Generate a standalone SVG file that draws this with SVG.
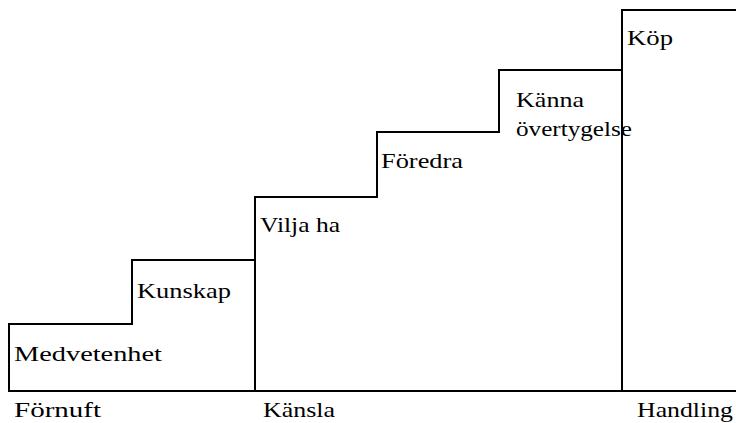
<svg xmlns="http://www.w3.org/2000/svg" width="736" height="423" viewBox="0 0 736 423">
<style>
.l{fill:none;stroke:#000;stroke-width:2;stroke-linecap:square}
text{font-family:"Liberation Serif","Times New Roman",serif;font-size:22px;fill:#000}
</style>
<rect width="736" height="423" fill="#fff"/>
<g id="connectors">
<path class="l" d="M9,391 V324 H132 V260 H255 V197 H377 V132 H499 V70 H622 V10 H736"/>
<path class="l" d="M9,391 H736"/>
<path class="l" d="M255,197 V391"/>
<path class="l" d="M622,10 V391"/>
</g>
<g id="medvetenhet"><text x="14" y="361" textLength="148" lengthAdjust="spacingAndGlyphs">Medvetenhet</text></g>
<g id="kunskap"><text x="137" y="298" textLength="94" lengthAdjust="spacingAndGlyphs">Kunskap</text></g>
<g id="vilja"><text x="260" y="232" textLength="80" lengthAdjust="spacingAndGlyphs">Vilja ha</text></g>
<g id="foredra"><text x="381" y="168" textLength="82" lengthAdjust="spacingAndGlyphs">Föredra</text></g>
<g id="kanna"><text x="516" y="107" textLength="68" lengthAdjust="spacingAndGlyphs">Känna</text><text x="516" y="136" textLength="116" lengthAdjust="spacingAndGlyphs">övertygelse</text></g>
<g id="kop"><text x="627" y="45" textLength="46" lengthAdjust="spacingAndGlyphs">Köp</text></g>
<g id="fornuft"><text x="14" y="417" textLength="87" lengthAdjust="spacingAndGlyphs">Förnuft</text></g>
<g id="kansla"><text x="263" y="417" textLength="72" lengthAdjust="spacingAndGlyphs">Känsla</text></g>
<g id="handling"><text x="637" y="417" textLength="96" lengthAdjust="spacingAndGlyphs">Handling</text></g>
</svg>
